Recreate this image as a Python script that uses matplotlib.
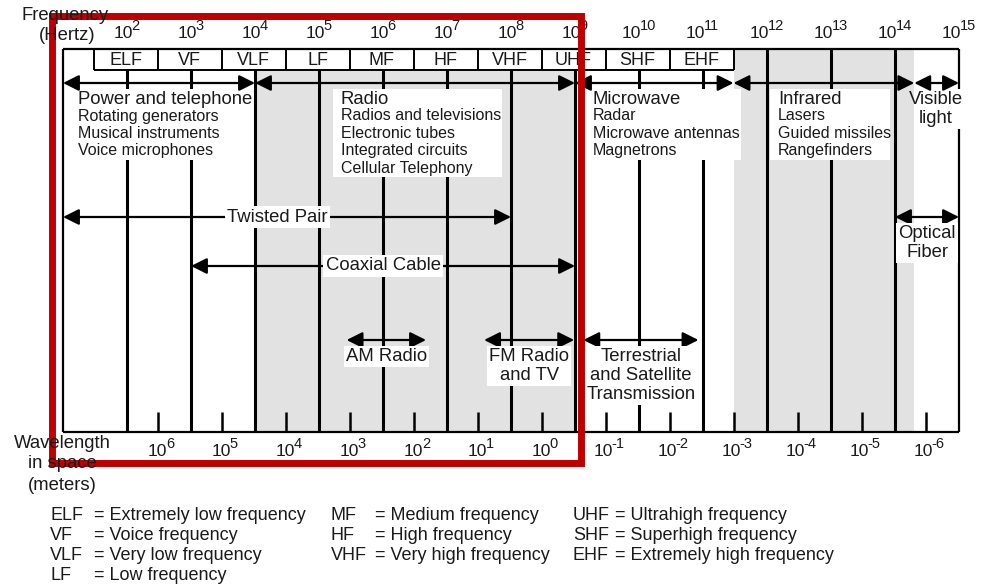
import numpy as np
import matplotlib
matplotlib.use('Agg')
import matplotlib.pyplot as plt
from matplotlib.patches import Rectangle

plt.rcParams['font.family'] = ['Liberation Sans', 'DejaVu Sans']

C = 3e8  # m/s

# ---- data ----
freq_exps = list(range(2, 16))           # top labels, Hz
wave_exps = list(range(6, -7, -1))       # bottom labels, metres
bands = ['ELF', 'VF', 'VLF', 'LF', 'MF', 'HF', 'VHF', 'UHF', 'SHF', 'EHF']
band_edges = [3 * 10.0**k for k in range(1, 12)]   # 30 Hz .. 300 GHz

regions = ['Power and telephone', 'Radio', 'Microwave', 'Infrared', 'Visible\nlight']
region_edges = [1e1, 1e4, 1e9, 3e11, 2e14, 1e15]
region_items = [
    ['Rotating generators', 'Musical instruments', 'Voice microphones'],
    ['Radios and televisions', 'Electronic tubes', 'Integrated circuits', 'Cellular Telephony'],
    ['Radar', 'Microwave antennas', 'Magnetrons'],
    ['Lasers', 'Guided missiles', 'Rangefinders'],
    [],
]
shaded = [(1e4, 1e9), (3e11, 2e14)]

media = ['Twisted Pair', 'Coaxial Cable', 'Optical\nFiber', 'AM Radio',
         'FM Radio\nand TV', 'Terrestrial\nand Satellite\nTransmission']
media_lo = [1e1, 1e3, 1e14, 2.7e5, 3.8e7, 1.35e9]
media_hi = [1e8, 1e9, 1e15, 4.7e6, 9.7e8, 8.5e10]

legend_abbr = [['ELF', 'VF', 'VLF', 'LF'], ['MF', 'HF', 'VHF'], ['UHF', 'SHF', 'EHF']]
legend_desc = [['Extremely low frequency', 'Voice frequency', 'Very low frequency', 'Low frequency'],
               ['Medium frequency', 'High frequency', 'Very high frequency'],
               ['Ultrahigh frequency', 'Superhigh frequency', 'Extremely high frequency']]

# ---- layout (pixel rows) ----
W, H = 984, 584
Y_TOP, Y_BAND, Y_BOT, Y_ARROW, Y_TICK = 49, 70, 432, 83, 412
TXT = '#1a1a1a'
GRAY = '#e2e2e2'
BASE_FS, EXP_FS = 12.5, 10.5

fig = plt.figure(figsize=(W / 100, H / 100), dpi=100)
ax = fig.add_axes([0, 0, 1, 1])
ax.set_xscale('log')
ax.set_xlim(10**(1 - 63 / 64), 10**(1 + (W - 63) / 64))
ax.set_ylim(H, 0)
ax.axis('off')

def arrow(lo, hi, y):
    ax.annotate('', xy=(hi, y), xytext=(lo, y), zorder=4,
                arrowprops=dict(arrowstyle='<|-|>,head_length=0.6,head_width=0.3',
                                color='black', lw=1.6, mutation_scale=16,
                                shrinkA=0, shrinkB=0))

def white_box(lo, hi, y0, y1):
    ax.fill_between([10**lo, 10**hi], y0, y1, color='white', lw=0, zorder=3)

def power_label(x, y, exp):
    # "10" plus a raised exponent, centred as a pair on x
    exp = str(exp)
    w_base = 1.112 * BASE_FS
    w_exp = sum(0.333 if ch == '-' else 0.556 for ch in exp) * EXP_FS
    dx = (w_base - w_exp) / 2
    ax.annotate('10', (x, y), xytext=(dx, 0), textcoords='offset points',
                ha='right', va='baseline', fontsize=BASE_FS, color=TXT)
    ax.annotate(exp, (x, y), xytext=(dx - 0.8, 5.5), textcoords='offset points',
                ha='left', va='baseline', fontsize=EXP_FS, color=TXT)

# shading
for lo, hi in shaded:
    top = Y_BAND if hi <= band_edges[-1] else Y_TOP
    ax.fill_between([lo, hi], top, Y_BOT, color=GRAY, lw=0, zorder=1)

# frame
ax.hlines([Y_TOP, Y_BOT], 1e1, 1e15, color='black', lw=1.6, zorder=2)
ax.vlines([1e1, 1e15], Y_TOP, Y_BOT, color='black', lw=1.6, zorder=2)

# band row
ax.hlines(Y_BAND, band_edges[0], band_edges[-1], color='black', lw=1.4, zorder=2)
ax.vlines(band_edges, Y_TOP, Y_BAND, color='black', lw=1.4, zorder=2)
for name, lo, hi in zip(bands, band_edges[:-1], band_edges[1:]):
    ax.text(np.sqrt(lo * hi), (Y_TOP + Y_BAND) / 2 + 1, name, ha='center', va='center',
            fontsize=13, color=TXT, zorder=5)

# decade lines
for e in range(2, 15):
    f = 10.0**e
    top = Y_BAND if f < band_edges[-1] else Y_TOP
    ax.vlines(f, top, Y_BOT, color='black', lw=2.2, zorder=2)

# wavelength ticks
wave_freqs = [C / 10.0**k for k in wave_exps]
ax.vlines(wave_freqs, Y_TICK, Y_BOT, color='black', lw=1.8, zorder=2)

# axis labels
for e in freq_exps:
    power_label(10.0**e, 38, e)
for f, k in zip(wave_freqs, wave_exps):
    power_label(f * 10**0.06, 456, k)

# region arrows and descriptions
for lo, hi in zip(region_edges[:-1], region_edges[1:]):
    arrow(lo, hi, Y_ARROW)

title_x = [1.23, 5.34, 9.28, 12.17]
boxes = [(1.17, 3.95, 89, 160), (5.22, 7.86, 89, 177), (9.16, 11.6, 89, 160),
         (12.05, 13.92, 89, 160), (14.34, 15.12, 89, 129)]
for b in boxes:
    white_box(*b)
for i, name in enumerate(regions[:-1]):
    ax.text(10**title_x[i], 99, name, ha='left', va='center', fontsize=13.3,
            color=TXT, zorder=5)
    for j, item in enumerate(region_items[i]):
        ax.text(10**title_x[i], 116 + 17.5 * j, item, ha='left', va='center',
                fontsize=11.5, color=TXT, zorder=5)
ax.text(10**14.64, 91, regions[-1], ha='center', va='top', fontsize=13.3,
        color=TXT, zorder=5, linespacing=1.15)

# transmission media
media_y = [217, 266, 217, 340, 340, 340]
label_x = [10**4.35, 1e6, None, None, None, None]
for name, lo, hi, y, lx in zip(media, media_lo, media_hi, media_y, label_x):
    arrow(lo, hi, y)
    if lx is not None:
        ax.text(lx, y, name, ha='center', va='center', fontsize=13.3, color=TXT,
                zorder=5, bbox=dict(facecolor='white', edgecolor='none', pad=1.5))
    else:
        ax.text(np.sqrt(lo * hi), y + 8, name, ha='center', va='top', fontsize=13.3,
                color=TXT, zorder=5, linespacing=1.15,
                bbox=dict(facecolor='white', edgecolor='none', pad=1.5))

# side captions
def ptext(x, y, s, **kw):
    fig.text(x / W, 1 - y / H, s, color=TXT, va='center', **kw)

ptext(65, 15, 'Frequency', fontsize=13.3, ha='center')
ptext(67, 35, '(Hertz)', fontsize=13.3, ha='center')
ptext(62, 443, 'Wavelength', fontsize=13.3, ha='center')
ptext(62, 463, 'in space', fontsize=13.3, ha='center')
ptext(62, 485, '(meters)', fontsize=13.3, ha='center')

# abbreviation legend
col_abbr_x = [50, 331, 573]
col_eq_x = [94, 375, 615]
for c in range(3):
    for r, (ab, ds) in enumerate(zip(legend_abbr[c], legend_desc[c])):
        ptext(col_abbr_x[c], 515 + 20 * r, ab, fontsize=13, ha='left')
        ptext(col_eq_x[c], 515 + 20 * r, '= ' + ds, fontsize=13, ha='left')

# red highlight box
hl_lo, hl_hi = 10**0.83, 10**9.09
ax.add_patch(Rectangle((hl_lo, 16), hl_hi - hl_lo, 447, fill=False,
                       edgecolor='#c00000', lw=5, joinstyle='miter',
                       zorder=10, clip_on=False))

fig.savefig('out.png', dpi=100)
